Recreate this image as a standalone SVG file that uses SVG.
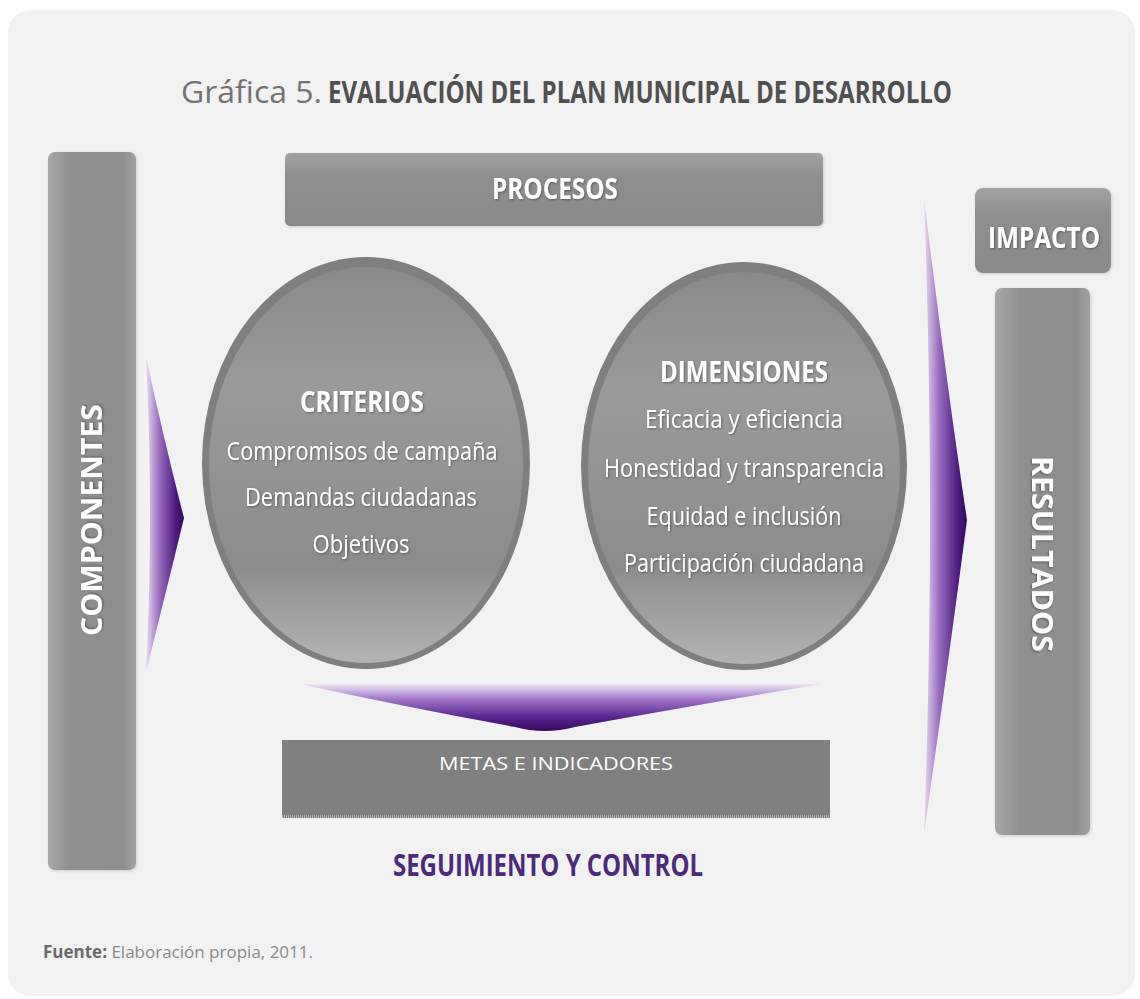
<svg xmlns="http://www.w3.org/2000/svg" width="1140" height="999" viewBox="0 0 1140 999">
<defs>
<linearGradient id="vbar" x1="0" y1="0" x2="1" y2="0">
<stop offset="0" stop-color="#a9a7a8"/><stop offset="0.25" stop-color="#918f90"/><stop offset="0.85" stop-color="#8f8d8e"/><stop offset="1" stop-color="#a3a1a2"/>
</linearGradient>
<linearGradient id="hbar" x1="0" y1="0" x2="0" y2="1">
<stop offset="0" stop-color="#a4a2a3"/><stop offset="0.3" stop-color="#908e8f"/><stop offset="1" stop-color="#8b898a"/>
</linearGradient>
<linearGradient id="ell" x1="0" y1="0" x2="0" y2="1">
<stop offset="0" stop-color="#8a8a8a"/><stop offset="0.3" stop-color="#9a9a9a"/><stop offset="0.75" stop-color="#8c8c8c"/><stop offset="1" stop-color="#b4b4b4"/>
</linearGradient>
<linearGradient id="pl" x1="0" y1="0" x2="1" y2="0">
<stop offset="0" stop-color="#e6dcef"/><stop offset="0.35" stop-color="#9a6cc0"/><stop offset="0.8" stop-color="#4a1a7c"/><stop offset="1" stop-color="#340663"/>
</linearGradient>
<linearGradient id="pd" x1="0" y1="0" x2="0" y2="1">
<stop offset="0" stop-color="#efe6f4"/><stop offset="0.3" stop-color="#a57ccb"/><stop offset="0.7" stop-color="#5a2690"/><stop offset="1" stop-color="#35085f"/>
</linearGradient>
<filter id="sh" x="-10%" y="-10%" width="120%" height="120%">
<feDropShadow dx="1" dy="1" stdDeviation="1" flood-color="#000" flood-opacity="0.35"/>
</filter>
<filter id="bs" x="-10%" y="-10%" width="120%" height="120%">
<feDropShadow dx="1" dy="1" stdDeviation="1.5" flood-color="#000" flood-opacity="0.15"/>
</filter>
</defs>
<style>
.w{fill:#fff;font-family:"Open Sans","Liberation Sans",sans-serif;}
.b{font-weight:bold;}
.t{font-size:26px;}
</style>
<rect width="1140" height="999" fill="#fff"/>
<rect x="8" y="10" width="1127" height="986" rx="22" fill="#f2f2f2"/>

<g id="title">
<text x="181" y="103" font-family="'Open Sans','Liberation Sans',sans-serif" font-size="31" fill="#737373" textLength="141" lengthAdjust="spacingAndGlyphs">Gráfica 5.</text>
<text x="328" y="103" font-family="'Open Sans','Liberation Sans',sans-serif" font-size="31" font-weight="bold" fill="#505050" textLength="624" lengthAdjust="spacingAndGlyphs">EVALUACIÓN DEL PLAN MUNICIPAL DE DESARROLLO</text>
</g>

<g id="connectors">
<path d="M146,357 Q164,440 184,518 Q164,600 146,672 Q154,515 146,357 Z" fill="url(#pl)"/>
<path d="M924,198 Q946,380 967,520 Q946,680 924,834 Q936,515 924,198 Z" fill="url(#pl)"/>
<path d="M300,684 L822,684 Q690,706 575,727 Q545,735 515,727 Q400,706 300,684 Z" fill="url(#pd)"/>
</g>

<g id="componentes">
<rect x="48" y="152" width="88" height="718" rx="7" fill="url(#vbar)" filter="url(#bs)"/>
<text class="w b" x="0" y="0" font-size="28" text-anchor="middle" transform="translate(102,520) rotate(-90)" textLength="232" lengthAdjust="spacingAndGlyphs" filter="url(#sh)">COMPONENTES</text>
</g>

<g id="procesos">
<rect x="285" y="153" width="538" height="73" rx="5" fill="url(#hbar)" filter="url(#bs)"/>
<text class="w b" x="555" y="199" font-size="28" text-anchor="middle" textLength="126" lengthAdjust="spacingAndGlyphs" filter="url(#sh)">PROCESOS</text>
</g>

<g id="criterios">
<ellipse cx="366" cy="463" rx="164" ry="206" fill="#7f7f7f"/>
<ellipse cx="366" cy="465" rx="157" ry="198" fill="url(#ell)"/>
<g filter="url(#sh)">
<text class="w b" x="362" y="412" font-size="28" text-anchor="middle" textLength="124" lengthAdjust="spacingAndGlyphs">CRITERIOS</text>
<text class="w t" x="362" y="460" text-anchor="middle" textLength="271" lengthAdjust="spacingAndGlyphs">Compromisos de campaña</text>
<text class="w t" x="361" y="506" text-anchor="middle" textLength="232" lengthAdjust="spacingAndGlyphs">Demandas ciudadanas</text>
<text class="w t" x="361" y="553" text-anchor="middle" textLength="97" lengthAdjust="spacingAndGlyphs">Objetivos</text>
</g>
</g>

<g id="dimensiones">
<ellipse cx="744" cy="466" rx="163" ry="204" fill="#7f7f7f"/>
<ellipse cx="744" cy="468" rx="156" ry="196" fill="url(#ell)"/>
<g filter="url(#sh)">
<text class="w b" x="744" y="382" font-size="28" text-anchor="middle" textLength="168" lengthAdjust="spacingAndGlyphs">DIMENSIONES</text>
<text class="w t" x="744" y="428" text-anchor="middle" textLength="198" lengthAdjust="spacingAndGlyphs">Eficacia y eficiencia</text>
<text class="w t" x="744" y="477" text-anchor="middle" textLength="280" lengthAdjust="spacingAndGlyphs">Honestidad y transparencia</text>
<text class="w t" x="744" y="525" text-anchor="middle" textLength="195" lengthAdjust="spacingAndGlyphs">Equidad e inclusión</text>
<text class="w t" x="744" y="572" text-anchor="middle" textLength="240" lengthAdjust="spacingAndGlyphs">Participación ciudadana</text>
</g>
</g>

<g id="metas">
<rect x="282" y="740" width="548" height="78" fill="#808080"/>
<line x1="282" y1="816.5" x2="830" y2="816.5" stroke="#b0b0b0" stroke-width="3" stroke-dasharray="1,1"/>
<text class="w" x="556" y="770" font-size="19" text-anchor="middle" textLength="234" lengthAdjust="spacingAndGlyphs">METAS E INDICADORES</text>
</g>

<g id="seguimiento">
<text x="548" y="876" font-family="'Open Sans','Liberation Sans',sans-serif" font-size="30" font-weight="bold" fill="#4b2a7c" text-anchor="middle" textLength="310" lengthAdjust="spacingAndGlyphs">SEGUIMIENTO Y CONTROL</text>
</g>

<g id="impacto">
<rect x="975" y="188" width="136" height="85" rx="8" fill="url(#hbar)" filter="url(#bs)"/>
<text class="w b" x="1044" y="248" font-size="28" text-anchor="middle" textLength="112" lengthAdjust="spacingAndGlyphs" filter="url(#sh)">IMPACTO</text>
</g>

<g id="resultados">
<rect x="995" y="288" width="95" height="547" rx="7" fill="url(#vbar)" filter="url(#bs)"/>
<text class="w b" x="0" y="0" font-size="28" text-anchor="middle" transform="translate(1032,554) rotate(90)" textLength="196" lengthAdjust="spacingAndGlyphs" filter="url(#sh)">RESULTADOS</text>
</g>

<g id="fuente">
<text x="43" y="958" font-family="'Open Sans','Liberation Sans',sans-serif" font-size="17"><tspan font-weight="bold" fill="#6a6a6a">Fuente:</tspan><tspan fill="#8a8a8a"> Elaboración propia, 2011.</tspan></text>
</g>
</svg>
